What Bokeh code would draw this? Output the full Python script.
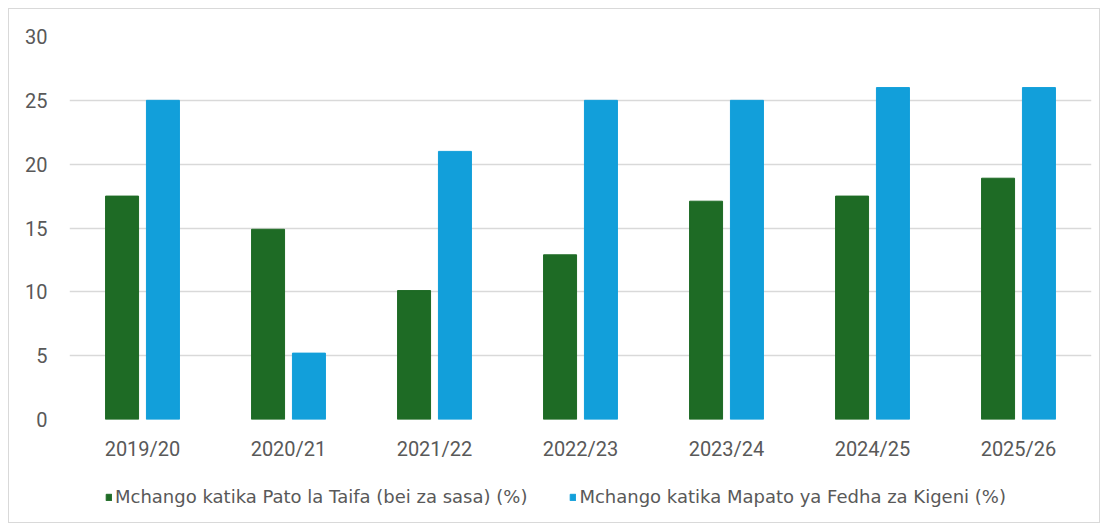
from bokeh.plotting import figure
from bokeh.layouts import column
from bokeh.models import FactorRange, Legend, LegendItem, ColumnDataSource, Range1d, FixedTicker
from bokeh.transform import dodge
from bokeh.embed import file_html
from bokeh.resources import INLINE

years = ["2019/20", "2020/21", "2021/22", "2022/23", "2023/24", "2024/25", "2025/26"]
pato_la_taifa = [17.5, 14.9, 10.1, 12.9, 17.1, 17.5, 18.9]
fedha_za_kigeni = [25.0, 5.2, 21.0, 25.0, 25.0, 26.0, 26.0]
y_ticks = [0, 5, 10, 15, 20, 25, 30]
label_green = "Mchango katika Pato la Taifa (bei za sasa) (%)"
label_blue = "Mchango katika Mapato ya Fedha za Kigeni (%)"

GREEN = "#1e6b25"
BLUE = "#129fda"
GRAY_TXT = "#595959"
GRID = "#d9d9d9"
FONT = "Roboto"

src = ColumnDataSource(dict(year=years, green=pato_la_taifa, blue=fedha_za_kigeni))

p = figure(x_range=FactorRange(*years), y_range=Range1d(0, 30),
           frame_width=1022, frame_height=383,
           output_backend="svg", toolbar_location=None,
           min_border_left=60, min_border_right=8, min_border_top=27, min_border_bottom=0)

r1 = p.vbar(x=dodge("year", -0.14, range=p.x_range), top="green", width=0.226,
            source=src, color=GREEN)
r2 = p.vbar(x=dodge("year", 0.14, range=p.x_range), top="blue", width=0.226,
            source=src, color=BLUE)

p.x_range.range_padding = 0
p.outline_line_color = None
p.xgrid.grid_line_color = None
p.ygrid.grid_line_color = GRID
p.ygrid.grid_line_width = 1.5
p.yaxis.ticker = FixedTicker(ticks=y_ticks)

for ax in (p.xaxis, p.yaxis):
    ax.axis_line_color = None
    ax.major_tick_line_color = None
    ax.minor_tick_line_color = None
    ax.major_label_text_color = GRAY_TXT
    ax.major_label_text_font = FONT
    ax.major_label_text_font_size = "20px"
p.yaxis.major_label_standoff = 16
p.xaxis.major_label_standoff = 11

# legend strip (legend keys only; the swatch renderers hold a single zero-height bar off-range)
lg = figure(width=1090, height=59, output_backend="svg", toolbar_location=None,
            x_range=Range1d(0, 1), y_range=Range1d(0, 1),
            min_border=0, min_border_left=0, min_border_right=0,
            min_border_top=0, min_border_bottom=0)
lg.axis.visible = False
lg.grid.visible = False
lg.outline_line_color = None
swatch = ColumnDataSource(dict(x=[-1], top=[0]))
d1 = lg.vbar(x="x", top="top", width=0.1, source=swatch, color=GREEN)
d2 = lg.vbar(x="x", top="top", width=0.1, source=swatch, color=BLUE)

legend = Legend(items=[LegendItem(label=label_green, renderers=[d1]),
                       LegendItem(label=label_blue, renderers=[d2])],
                orientation="horizontal", location=(36, 15),
                label_text_font="DejaVu Sans", label_text_font_size="18px",
                label_text_color=GRAY_TXT, glyph_width=7, glyph_height=8,
                label_standoff=3, spacing=42, border_line_color=None,
                background_fill_alpha=0, margin=0, padding=0)
lg.add_layout(legend, "center")

layout = column(p, lg, spacing=0)
layout.styles = {"border": "1px solid #d9d9d9", "margin-left": "8px", "margin-top": "8px",
                 "width": "1092px"}

open("out.html", "w").write(file_html(layout, INLINE))
